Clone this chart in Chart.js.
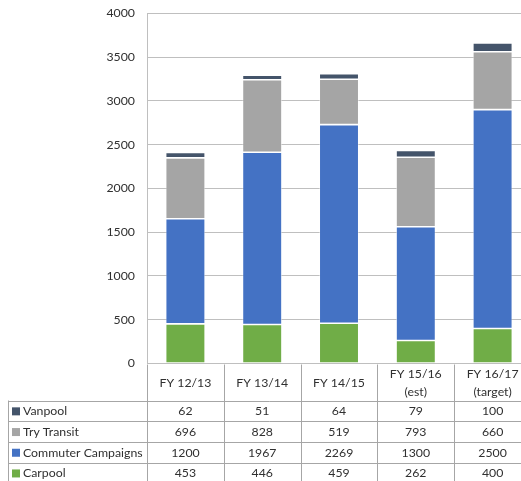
<!DOCTYPE html>
<html>
<head>
<meta charset="utf-8">
<script src="https://cdn.jsdelivr.net/npm/chart.js@4.4.1/dist/chart.umd.min.js"></script>
<style>
  html, body { margin: 0; padding: 0; background: #fff; overflow: hidden; }
  #wrap { width: 521px; height: 481px; overflow: hidden; position: relative; }
  #box { width: 531px; height: 481px; position: absolute; left: 0; top: 0; }
</style>
</head>
<body>
<div id="wrap"><div id="box"><canvas id="chart"></canvas></div></div>
<script>
// data
const categories = [['FY 12/13'], ['FY 13/14'], ['FY 14/15'], ['FY 15/16', '(est)'], ['FY 16/17', '(target)']];
const vanpool = [62, 51, 64, 79, 100];
const tryTransit = [696, 828, 519, 793, 660];
const commuterCampaigns = [1200, 1967, 2269, 1300, 2500];
const carpool = [453, 446, 459, 262, 400];
const yTicks = [0, 500, 1000, 1500, 2000, 2500, 3000, 3500, 4000];

const colors = {
    vanpool: '#44546a',
    tryTransit: '#a5a5a5',
    commuter: '#4472c4',
    carpool: '#70ad47',
    grid: '#bfbfbf',
    table: '#a6a6a6',
    text: '#303030'
};
const FONT = 'Lato';
const FONT_SIZE = 12.3;

// rows of the table, top to bottom (reverse of the stacking order)
const tableRows = [
    { label: 'Vanpool', data: vanpool, color: colors.vanpool },
    { label: 'Try Transit', data: tryTransit, color: colors.tryTransit },
    { label: 'Commuter Campaigns', data: commuterCampaigns, color: colors.commuter },
    { label: 'Carpool', data: carpool, color: colors.carpool }
];

// draws the data table below the plot, columns taken from the x scale
const dataTable = {
    id: 'dataTable',
    afterDraw(chart) {
        const ctx = chart.ctx;
        const xs = chart.scales.x;
        const area = chart.chartArea;
        const colW = (area.right - area.left) / categories.length;
        const top = Math.round(area.bottom) + 0.5;
        const headBottom = 400.5;
        const rowH = 20.7;
        const tableLeft = 8.5;
        const bottom = 490;

        ctx.save();
        ctx.strokeStyle = colors.table;
        ctx.lineWidth = 1;
        ctx.beginPath();
        // vertical column lines
        for (let i = 0; i <= categories.length; i++) {
            const x = Math.round(area.left + i * colW) + 0.5;
            ctx.moveTo(x, top);
            ctx.lineTo(x, bottom);
        }
        ctx.moveTo(tableLeft, headBottom);
        ctx.lineTo(tableLeft, bottom);
        // horizontal row lines
        for (let r = 0; r <= tableRows.length; r++) {
            const y = Math.round(headBottom + r * rowH) + 0.5;
            ctx.moveTo(tableLeft, y);
            ctx.lineTo(area.right, y);
        }
        ctx.stroke();

        ctx.fillStyle = colors.text;
        ctx.font = FONT_SIZE + 'px ' + FONT;
        ctx.textAlign = 'center';
        ctx.textBaseline = 'middle';
        // header: category names
        const headMid = (top + headBottom) / 2 + 1;
        categories.forEach((lines, i) => {
            const cx = xs.getPixelForValue(i);
            const lh = 18;
            lines.forEach((t, k) => {
                ctx.fillText(t, cx, headMid + (k - (lines.length - 1) / 2) * lh);
            });
        });
        // body rows
        tableRows.forEach((row, r) => {
            const cy = headBottom + r * rowH + rowH / 2 + 0.5;
            ctx.fillStyle = row.color;
            ctx.fillRect(12, cy - 4, 8, 8);
            ctx.fillStyle = colors.text;
            ctx.textAlign = 'left';
            ctx.fillText(row.label, 23, cy);
            ctx.textAlign = 'center';
            row.data.forEach((v, i) => {
                ctx.fillText(String(v), xs.getPixelForValue(i), cy);
            });
        });
        ctx.restore();
    }
};

const barStyle = {
    borderColor: 'rgba(255,255,255,0.6)',
    borderWidth: 0.8,
    borderSkipped: false,
    categoryPercentage: 1,
    barPercentage: 0.515
};

new Chart(document.getElementById('chart').getContext('2d'), {
    type: 'bar',
    data: {
        labels: categories.map(c => c.join(' ')),
        datasets: [
            { label: 'Carpool', data: carpool, backgroundColor: colors.carpool, ...barStyle },
            { label: 'Commuter Campaigns', data: commuterCampaigns, backgroundColor: colors.commuter, ...barStyle },
            { label: 'Try Transit', data: tryTransit, backgroundColor: colors.tryTransit, ...barStyle },
            { label: 'Vanpool', data: vanpool, backgroundColor: colors.vanpool, ...barStyle }
        ]
    },
    options: {
        responsive: true,
        maintainAspectRatio: false,
        animation: false,
        layout: {
            padding: { top: 0, right: 0, bottom: 117.5, left: 0 }
        },
        plugins: {
            legend: { display: false },
            tooltip: { enabled: false }
        },
        scales: {
            x: {
                stacked: true,
                display: false
            },
            y: {
                stacked: true,
                min: 0,
                max: 4000,
                afterFit(scale) {
                    scale.width = 147;
                    scale.paddingTop = 13.3;
                    scale.paddingBottom = 0;
                },
                afterBuildTicks(scale) { scale.ticks = yTicks.map(v => ({ value: v })); },
                grid: { color: colors.grid, drawTicks: false, lineWidth: 1 },
                border: { display: true, color: colors.grid },
                ticks: {
                    padding: 12,
                    color: colors.text,
                    font: { family: FONT, size: FONT_SIZE },
                    callback: v => String(v)
                }
            }
        }
    },
    plugins: [dataTable]
});
</script>
</body>
</html>
